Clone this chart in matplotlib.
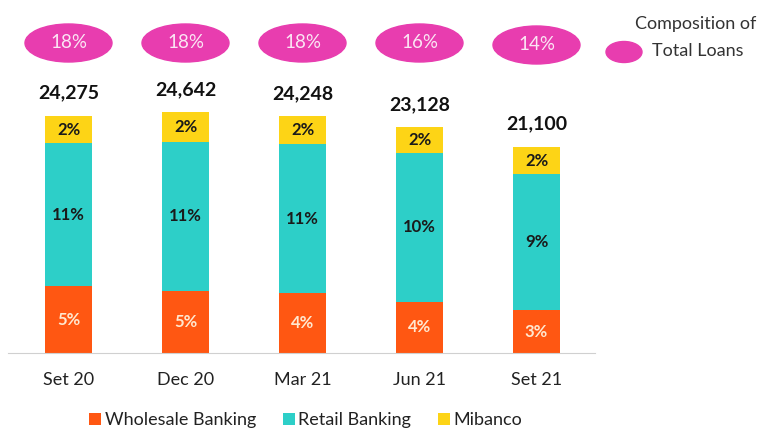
import matplotlib
matplotlib.use('Agg')
import matplotlib.pyplot as plt
from matplotlib.patches import Ellipse
import numpy as np

plt.rcParams['font.family'] = ['Lato', 'DejaVu Sans']

periods = ['Set 20', 'Dec 20', 'Mar 21', 'Jun 21', 'Set 21']
totals = [24275, 24642, 24248, 23128, 21100]
wholesale = [6850, 6360, 6140, 5270, 4400]
retail = [14650, 15300, 15250, 15180, 13934]
mibanco = [2775, 2982, 2858, 2678, 2766]
wholesale_pct = ['5%', '5%', '4%', '4%', '3%']
retail_pct = ['11%', '11%', '11%', '10%', '9%']
mibanco_pct = ['2%', '2%', '2%', '2%', '2%']
share_total = ['18%', '18%', '18%', '16%', '14%']

c_whole = '#FF5712'
c_retail = '#2DCFC8'
c_mib = '#FDD416'
c_pink = '#E83DAF'

fig = plt.figure(figsize=(7.63, 4.30), dpi=100)
ax = fig.add_axes([8/763, 1 - 353/430, (595 - 8)/763, 353/430])

x = np.arange(len(periods))
w = 47/117.
wholesale = np.array(wholesale)
retail = np.array(retail)
mibanco = np.array(mibanco)

ax.bar(x, wholesale, w, color=c_whole, label='Wholesale Banking')
ax.bar(x, retail, w, bottom=wholesale, color=c_retail, label='Retail Banking')
ax.bar(x, mibanco, w, bottom=wholesale + retail, color=c_mib, label='Mibanco')

ax.set_xlim(-(68.5 - 8)/117., (595 - 68.5)/117.)
ymax = 353/0.00976
ax.set_ylim(0, ymax)

for i in range(len(x)):
    ax.text(x[i], wholesale[i]/2., wholesale_pct[i], ha='center', va='center',
            color='#FFE8D0', fontsize=12, fontweight='bold')
    ax.text(x[i], wholesale[i] + retail[i]/2., retail_pct[i], ha='center', va='center',
            color='#1a1a1a', fontsize=12, fontweight='bold')
    ax.text(x[i], wholesale[i] + retail[i] + mibanco[i]/2., mibanco_pct[i], ha='center',
            va='center', color='#1a1a1a', fontsize=12, fontweight='bold')
    ax.text(x[i], totals[i] + 23/0.00976, format(totals[i], ','), ha='center', va='center',
            color='#111111', fontsize=14, fontweight='bold')
    # pink bubble with share of total loans
    yc = (353 - 43)/0.00976
    if i == 4:
        yc = (353 - 45)/0.00976
    ax.add_patch(Ellipse((x[i], yc), 87/117., 38/0.00976, color=c_pink, clip_on=False))
    ax.text(x[i], yc, share_total[i], ha='center', va='center', color='#FBE6F4', fontsize=13.5)

for s in ['top', 'right', 'left']:
    ax.spines[s].set_visible(False)
ax.spines['bottom'].set_color('#D0D0D0')
ax.set_yticks([])
ax.set_xticks(x)
ax.set_xticklabels(periods, fontsize=13, color='#222222')
ax.tick_params(axis='x', length=0, pad=14)

# legend bubble for "Composition of Total Loans"
fig.patches.append(Ellipse((624/763., 1 - 52/430.), 36/763., 21/430., color=c_pink,
                           transform=fig.transFigure, figure=fig))
fig.text(696/763., 1 - 24/430., 'Composition of', ha='center', va='center',
         fontsize=13, color='#333333')
fig.text(698/763., 1 - 51/430., 'Total Loans', ha='center', va='center',
         fontsize=13, color='#333333')

fig.legend(loc='center', bbox_to_anchor=(306/763., 1 - 420/430.), ncol=3, frameon=False,
           fontsize=13, handlelength=0.65, handleheight=0.65, handletextpad=0.2,
           columnspacing=1.5, labelcolor='#222222')

fig.savefig('out.png', dpi=100)
